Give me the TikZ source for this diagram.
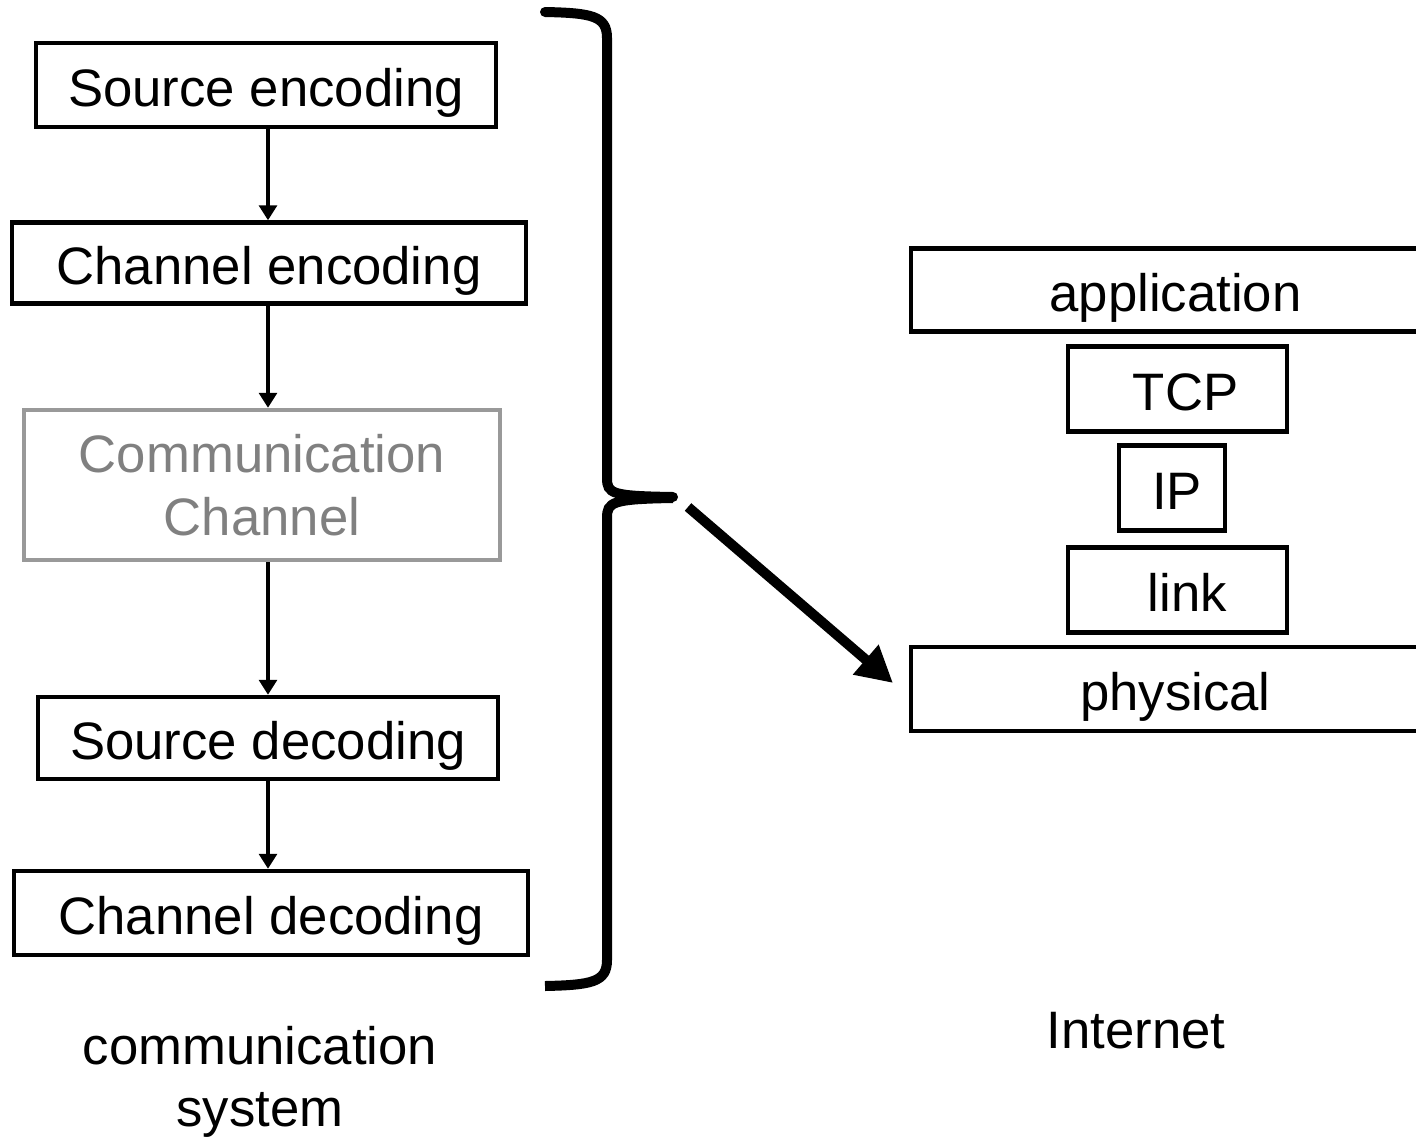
\documentclass[tikz,border=0pt]{standalone}
\usepackage{fontspec}
\setmainfont{Liberation Sans}
\usetikzlibrary{arrows.meta}
\begin{document}
\begin{tikzpicture}[x=0.02cm,y=-0.02cm,
  basebox/.style={draw,line width=0.09cm,inner sep=0pt,font=\fontsize{30}{36}\selectfont},
  box/.style={basebox,text height=25pt,text depth=0pt},
  graybox/.style={basebox,draw=black!40,text=black!50,align=center},
  flow/.style={line width=0.065cm,-{Triangle[length=0.3cm,width=0.36cm]}},
  big/.style={line width=0.2cm,-{Triangle[length=0.72cm,width=0.74cm]}},
  lbl/.style={font=\fontsize{30}{35}\selectfont,align=center}]
\useasboundingbox (0,0) rectangle (1416,1139);
\node[box,minimum width=460*0.02cm,minimum height=84*0.02cm] (se) at (266,85) {Source encoding};
\node[box,minimum width=514*0.02cm,minimum height=81*0.02cm] (ce) at (269,263) {Channel encoding};
\node[graybox,minimum width=476*0.02cm,minimum height=150*0.02cm] (cc) at (262,485) {Communication\\Channel};
\node[box,minimum width=460*0.02cm,minimum height=82*0.02cm] (sd) at (268,738) {Source decoding};
\node[box,minimum width=514*0.02cm,minimum height=84*0.02cm] (cd) at (271,913) {Channel decoding};
\coordinate (ax) at (268,0);
\draw[flow] (se.south -| ax) -- (ce.north -| ax);
\draw[flow] (ce.south -| ax) -- (cc.north -| ax);
\draw[flow] (cc.south -| ax) -- (sd.north -| ax);
\draw[flow] (sd.south -| ax) -- (cd.north -| ax);
\draw[line width=0.2cm,line cap=round] (545,12) .. controls (592,13) and (607,16) .. (607,38) -- (607,478) .. controls (607,494) and (612,496) .. (673,497);
\draw[line width=0.2cm] (545,986) .. controls (592,985) and (607,982) .. (607,960) -- (607,518) .. controls (607,502) and (612,499) .. (673,498);
\coordinate (bs) at (688,507);
\node[box,minimum width=529*0.02cm,minimum height=83*0.02cm] (app) at (1175.5,290) {application};
\node[box,minimum width=219*0.02cm,minimum height=85*0.02cm] (tcp) at (1177.5,389) {\hspace{0.32cm}TCP};
\node[box,minimum width=106*0.02cm,minimum height=85*0.02cm] (ip) at (1172,488) {\hspace{0.2cm}IP};
\node[box,minimum width=219*0.02cm,minimum height=85*0.02cm] (link) at (1177.5,590) {\hspace{0.4cm}link};
\node[box,minimum width=529*0.02cm,minimum height=84*0.02cm] (phy) at (1175.5,689) {physical};
\draw[big] (bs) -- (893,683);
\node[lbl] (cs) at (260,1082) {communication\\system};
\node[lbl] (inet) at (1136,1031) {Internet};
\end{tikzpicture}
\end{document}
